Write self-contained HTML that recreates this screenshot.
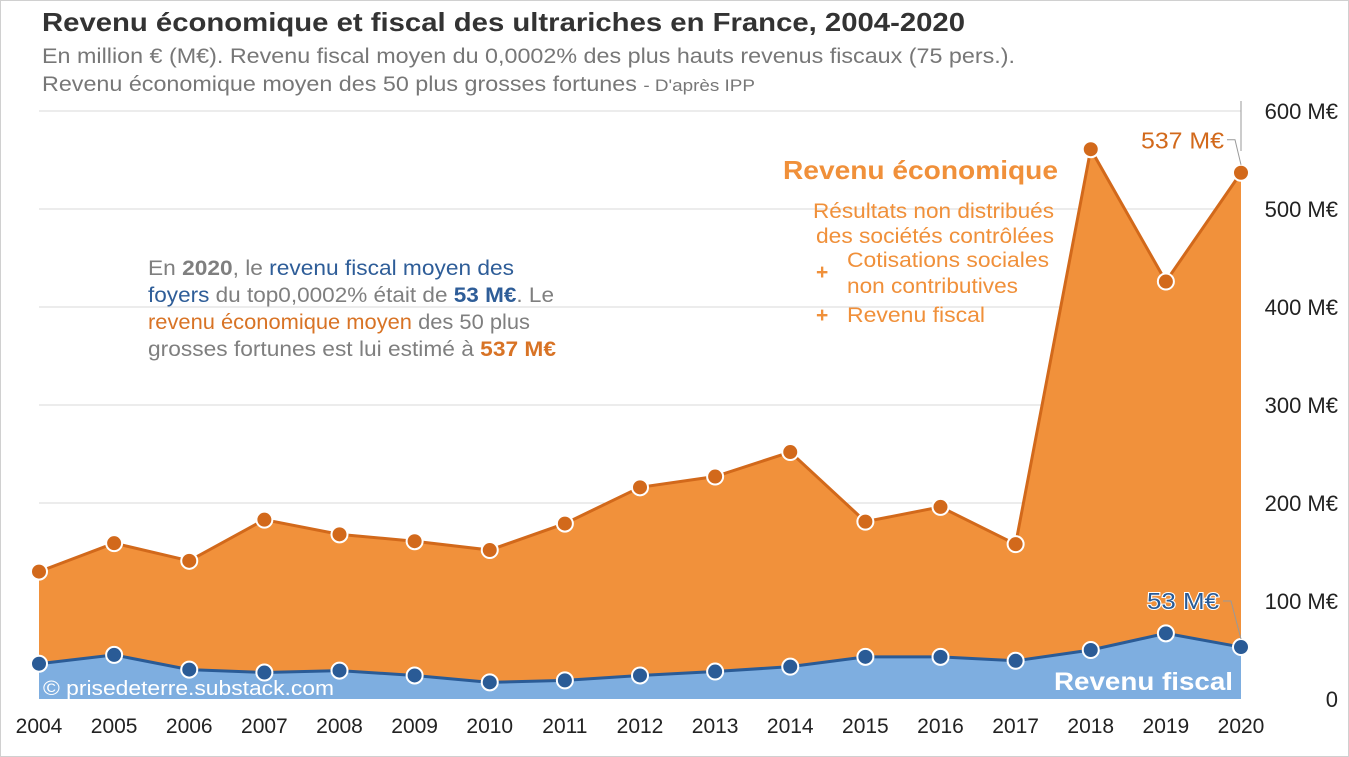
<!DOCTYPE html>
<html><head><meta charset="utf-8"><style>
html,body{margin:0;padding:0;background:#fff}
body{width:1349px;height:757px;overflow:hidden;position:relative;font-family:"Liberation Sans",sans-serif}
#frame{position:absolute;left:0;top:0;width:1347px;height:755px;border:1px solid #d0d0d0}
svg{position:absolute;left:0;top:0}
</style></head><body>
<div id="frame"></div>
<svg id="chart" width="1349" height="757">
<text x="42" y="31" font-size="26" font-weight="bold" fill="#333" textLength="923" lengthAdjust="spacingAndGlyphs">Revenu économique et fiscal des ultrariches en France, 2004-2020</text>
<text x="42" y="63" font-size="21" fill="#777" textLength="973" lengthAdjust="spacingAndGlyphs">En million € (M€). Revenu fiscal moyen du 0,0002% des plus hauts revenus fiscaux (75 pers.).</text>
<text x="42" y="91" font-size="21" fill="#777" textLength="713" lengthAdjust="spacingAndGlyphs">Revenu économique moyen des 50 plus grosses fortunes <tspan font-size="17">- D'après IPP</tspan></text>
<g id="grid"></g>
<g id="areas"></g>
<g id="yaxis"></g>
<g id="xaxis"></g>
<g font-size="21" fill="#7f7f7f">
<text x="148" y="275" textLength="366" lengthAdjust="spacingAndGlyphs">En <tspan font-weight="bold">2020</tspan>, le <tspan fill="#2e5d98">revenu fiscal moyen des</tspan></text>
<text x="148" y="302" textLength="406" lengthAdjust="spacingAndGlyphs"><tspan fill="#2e5d98">foyers</tspan> du top0,0002% était de <tspan font-weight="bold" fill="#2e5d98">53 M€</tspan>. Le</text>
<text x="148" y="329" textLength="382" lengthAdjust="spacingAndGlyphs"><tspan fill="#d87325">revenu économique moyen</tspan> des 50 plus</text>
<text x="148" y="356" textLength="408" lengthAdjust="spacingAndGlyphs">grosses fortunes est lui estimé à <tspan font-weight="bold" fill="#d87325">537 M€</tspan></text>
</g>
<g fill="#f0903a">
<text x="783" y="179" font-size="26" font-weight="bold" textLength="275" lengthAdjust="spacingAndGlyphs">Revenu économique</text>
<text x="813" y="218" font-size="21" textLength="241" lengthAdjust="spacingAndGlyphs">Résultats non distribués</text>
<text x="816" y="243" font-size="21" textLength="238" lengthAdjust="spacingAndGlyphs">des sociétés contrôlées</text>
<text x="816" y="279" font-size="21" font-weight="bold">+</text>
<text x="847" y="267" font-size="21" textLength="202" lengthAdjust="spacingAndGlyphs">Cotisations sociales</text>
<text x="847" y="293" font-size="21" textLength="171" lengthAdjust="spacingAndGlyphs">non contributives</text>
<text x="816" y="322" font-size="21" font-weight="bold">+</text>
<text x="847" y="322" font-size="21" textLength="138" lengthAdjust="spacingAndGlyphs">Revenu fiscal</text>
</g>
<text x="1054" y="690" font-size="25" font-weight="bold" fill="#fff" textLength="179" lengthAdjust="spacingAndGlyphs">Revenu fiscal</text>
<text x="43" y="695" font-size="20" fill="#fff" textLength="291" lengthAdjust="spacingAndGlyphs">© prisedeterre.substack.com</text>
<g id="labels"></g>
</svg>
<script>
const years=[2004,2005,2006,2007,2008,2009,2010,2011,2012,2013,2014,2015,2016,2017,2018,2019,2020];
const economique=[130,159,141,183,168,161,152,179,216,227,252,181,196,158,561,426,537];
const fiscal=[36,45,30,27,29,24,17,19,24,28,33,43,43,39,50,67,53];
const yTicks=[0,100,200,300,400,500,600];
const yTickLabels=["0","100 M€","200 M€","300 M€","400 M€","500 M€","600 M€"];
const NS="http://www.w3.org/2000/svg";
const x0=39,x1=1241,yBase=699,yTop=111,yMax=600;
function xs(i){return x0+(x1-x0)*i/(years.length-1);}
function ys(v){return yBase-(yBase-yTop)*v/yMax;}
function mk(tag,attrs,parent){const e=document.createElementNS(NS,tag);for(const k in attrs)e.setAttribute(k,attrs[k]);parent.appendChild(e);return e;}
const grid=document.getElementById('grid'),yax=document.getElementById('yaxis'),xax=document.getElementById('xaxis'),areas=document.getElementById('areas'),labels=document.getElementById('labels');
yTicks.forEach((t,i)=>{
  if(t>0){const l=mk('line',{x1:x0,x2:x1,y1:ys(t),y2:ys(t),stroke:'#d9d9d9','stroke-width':1},grid);
  
  }
  const tx=mk('text',{x:1338,y:ys(t)+8,'font-size':22,fill:'#222','text-anchor':'end'},yax);
  tx.textContent=yTickLabels[i];
  
  
});
years.forEach((y,i)=>{
  const tx=mk('text',{x:xs(i),y:733,'font-size':21,fill:'#222','text-anchor':'middle'},xax);
  tx.textContent=y;
  
  
});
function area(vals,fill,stroke,name){
  let d='M'+xs(0)+','+yBase;
  vals.forEach((v,i)=>d+=' L'+xs(i)+','+ys(v));
  d+=' L'+xs(vals.length-1)+','+yBase+' Z';
  const a=mk('path',{d:d,fill:fill},areas);
  
  
  const pts=vals.map((v,i)=>xs(i)+','+ys(v)).join(' ');
  const l=mk('polyline',{points:pts,fill:'none',stroke:stroke,'stroke-width':3},areas);
  
  
}
function dots(vals,color,name){
  vals.forEach((v,i)=>{
    const c=mk('circle',{cx:xs(i),cy:ys(v),r:8,fill:color,stroke:'#fff','stroke-width':2},areas);
    
    
  });
}
area(economique,'#f1913b','#d2691b','economique');
area(fiscal,'#7eaee0','#2a5b96','fiscal');
dots(economique,'#d2691b','economique');
dots(fiscal,'#2a5b96','fiscal');
const n=years.length-1;
mk('polyline',{points:(x1-14)+','+(ys(economique[n])-33)+' '+(x1-6)+','+(ys(economique[n])-33)+' '+x1+','+(ys(economique[n])-8),fill:'none',stroke:'#999','stroke-width':1},labels);
mk('line',{x1:x1,x2:x1,y1:ys(600)-10,y2:ys(600)+40,stroke:'#999','stroke-width':1},labels);
const le=mk('text',{x:1141,y:ys(economique[n])-24,'font-size':23,fill:'#d2691b',textLength:83,lengthAdjust:'spacingAndGlyphs'},labels);
le.textContent=economique[n]+' M€';


mk('polyline',{points:(x1-18)+','+(ys(fiscal[n])-46)+' '+(x1-10)+','+(ys(fiscal[n])-46)+' '+x1+','+(ys(fiscal[n])-8),fill:'none',stroke:'#999','stroke-width':1},labels);
const lf=mk('text',{x:1147,y:ys(fiscal[n])-38,'font-size':23,fill:'#2a5b96',stroke:'#fff','stroke-width':2,'paint-order':'stroke',textLength:72,lengthAdjust:'spacingAndGlyphs'},labels);
lf.textContent=fiscal[n]+' M€';


</script>
</body></html>
